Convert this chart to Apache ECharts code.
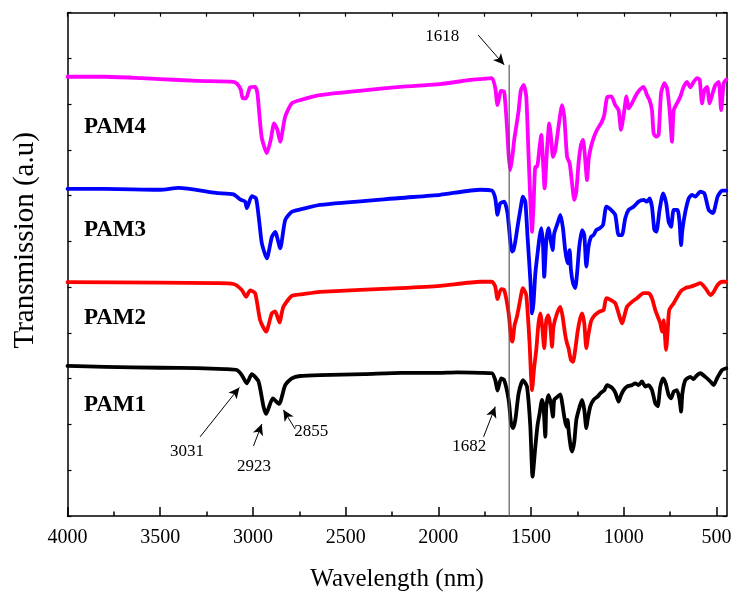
<!DOCTYPE html>
<html><head><meta charset="utf-8">
<script src="https://cdn.jsdelivr.net/npm/echarts@6/dist/echarts.min.js"></script>
<style>html,body{margin:0;padding:0;background:#fff}#c{width:737px;height:597px}</style>
</head><body><div id="c"></div>
<script>
// ---- data (wavenumber in cm-1, transmission in arbitrary units) ----
const wnPAM1 = [4000,3800,3500,3300,3150,3087,3060,3033,3006,2970,2943,2929,2893,2859,2826,2790,2745,2638,2400,2200,2000,1900,1774,1711,1693,1681,1662,1645,1621,1608,1598,1585,1567,1544,1522,1504,1492,1477,1465,1454,1441,1433,1423,1418,1406,1393,1382,1375,1357,1342,1332,1321,1310,1303,1296,1285,1278,1267,1256,1238,1225,1213,1202,1195,1181,1163,1141,1127,1105,1090,1063,1045,1028,1015,1001,983,956,938,920,902,884,866,848,830,817,803,788,774,758,745,731,713,699,691,684,668,641,623,609,587,560,533,515,497,470,447];
const tPAM1 = [32.8,32.6,32.4,32.3,32.1,31.9,30.8,29.0,31.0,29.4,23.9,22.3,25.7,24.5,28.6,30.1,30.6,30.8,31.0,31.3,31.3,31.4,31.3,31.2,29.7,27.4,30.1,29.7,25.4,20.3,19.2,21.0,26.8,29.7,28.3,19.5,8.6,15.1,19.9,22.4,25.4,23.9,17.3,23.9,26.4,24.6,21.7,25.4,26.1,26.6,24.6,21.7,19.5,21.0,18.1,14.8,14.1,16.2,21.0,23.9,25.4,23.2,19.2,21.0,23.9,25.4,26.1,26.8,27.5,28.6,28.0,26.9,25.0,26.4,27.5,28.3,28.6,29.0,28.6,29.4,28.3,28.6,27.5,24.6,24.0,28.3,30.1,29.0,26.4,25.7,27.2,27.5,25.4,22.8,26.8,29.7,30.4,29.9,30.6,31.2,30.4,29.4,28.6,30.1,31.9,32.3];

const wnPAM2 = [4000,3500,3200,3105,3060,3037,3015,2988,2961,2929,2898,2880,2857,2836,2790,2728,2638,2206,1990,1774,1711,1693,1681,1662,1645,1621,1608,1601,1589,1576,1562,1544,1526,1508,1495,1483,1472,1460,1450,1440,1429,1418,1407,1396,1387,1379,1360,1342,1330,1316,1306,1298,1285,1274,1262,1249,1235,1224,1213,1202,1191,1177,1163,1144,1130,1109,1094,1069,1046,1028,1010,983,956,929,893,866,848,830,817,803,794,785,772,764,755,731,695,668,641,614,587,560,533,515,494,470,447];
const tPAM2 = [51.1,51.0,50.9,50.7,49.4,47.9,49.3,48.7,42.8,40.3,44.3,44.7,42.3,45.7,48.1,48.5,49.0,49.8,50.3,51.2,51.2,50.1,47.4,49.6,49.4,44.3,38.8,38.1,41.7,43.6,46.5,49.8,48.3,37.7,27.5,32.6,36.3,42.1,44.3,41.4,36.7,42.8,43.9,41.4,37.0,41.4,44.3,45.7,43.6,39.6,37.7,36.7,34.1,33.7,36.3,40.3,43.2,44.3,42.1,36.7,39.6,42.5,43.6,44.3,44.7,45.0,47.6,47.2,46.5,44.3,42.1,45.7,46.8,47.6,48.7,48.7,47.6,45.0,43.6,42.1,40.3,42.8,36.3,40.0,45.0,46.5,49.0,49.8,50.1,50.5,50.9,49.8,48.3,49.0,50.5,51.2,51.2];

const wnPAM3 = [4000,3800,3500,3400,3200,3105,3069,3042,3033,3006,2983,2965,2952,2925,2898,2880,2853,2826,2790,2745,2638,2206,1990,1774,1711,1693,1681,1667,1645,1627,1612,1603,1595,1585,1573,1558,1544,1531,1519,1504,1495,1487,1477,1465,1454,1445,1436,1429,1418,1406,1393,1384,1375,1357,1342,1328,1316,1303,1292,1285,1274,1262,1252,1240,1225,1213,1202,1190,1177,1163,1148,1130,1112,1094,1069,1046,1028,1010,992,974,947,920,893,875,861,848,835,824,807,788,771,758,745,731,710,699,691,684,668,650,632,614,587,565,542,519,494,470,447];
const tPAM3 = [71.5,71.5,71.3,71.7,70.6,70.3,69.2,68.7,67.3,69.9,69.4,64.0,59.6,56.3,61.0,62.1,58.5,64.7,66.5,67.0,68.0,69.5,70.2,71.3,71.1,69.4,65.8,68.3,68.7,66.2,60.0,57.8,58.1,60.0,63.2,66.9,69.8,68.7,61.0,51.6,44.3,46.5,53.0,57.4,61.0,62.9,59.6,52.3,60.0,62.9,60.0,58.1,61.8,64.0,65.8,62.9,58.1,55.2,58.1,53.8,50.9,49.8,53.0,58.9,62.5,61.4,54.5,58.9,61.0,61.4,62.5,62.9,63.6,67.6,66.9,65.8,61.4,61.4,65.1,66.9,67.6,68.7,69.1,68.7,69.4,67.6,62.5,62.1,66.9,70.5,68.3,64.3,63.2,66.9,66.9,64.0,59.2,62.5,66.5,69.4,70.2,69.8,70.9,70.5,66.9,66.2,69.8,71.1,71.1];

const wnPAM4 = [4000,3800,3600,3500,3300,3105,3084,3065,3055,3037,3015,2988,2976,2965,2952,2925,2904,2886,2868,2853,2826,2790,2745,2638,2206,1990,1828,1774,1711,1693,1681,1662,1645,1630,1621,1612,1601,1591,1580,1567,1555,1540,1526,1514,1504,1495,1487,1477,1468,1454,1445,1436,1427,1414,1402,1391,1382,1369,1352,1333,1321,1306,1292,1279,1267,1256,1244,1231,1220,1211,1198,1190,1177,1163,1148,1134,1118,1105,1090,1067,1046,1028,1015,997,986,974,956,938,915,893,875,861,848,839,824,812,799,781,767,753,740,731,713,695,677,659,641,623,605,591,578,565,551,537,521,506,488,475,461,447];
const tPAM4 = [96.0,96.0,95.7,95.5,95.1,94.9,94.4,93.1,91.3,91.3,93.7,93.8,92.4,87.7,82.6,79.3,82.2,85.8,84.4,81.8,87.3,90.2,90.9,92.0,93.8,94.4,95.3,95.5,95.7,93.5,89.8,92.9,92.7,85.1,78.9,75.6,78.5,82.2,85.1,88.7,93.1,94.2,91.7,79.3,69.1,62.1,67.6,76.3,76.3,80.7,83.3,77.8,71.6,80.0,85.8,82.2,78.5,80.0,85.1,89.8,87.3,78.5,77.1,72.7,69.1,70.9,77.1,81.1,82.2,79.3,73.4,77.8,80.7,82.6,84.1,85.1,86.2,87.7,91.5,91.7,89.8,88.7,84.4,88.7,91.7,89.1,90.2,91.7,93.1,93.8,92.0,90.9,88.7,83.6,82.9,83.3,92.4,94.6,93.5,88.7,81.8,88.7,90.2,91.7,93.8,94.9,93.7,94.9,95.7,95.4,90.2,93.1,93.8,90.2,92.4,94.2,94.9,88.7,94.6,95.4];

const seriesNames = ['PAM1','PAM2','PAM3','PAM4'];
const seriesColors = ['#000000','#ff0000','#0000ff','#ff00ff'];
const nameLabelWn = [3744,3744,3744,3744];
const nameLabelT = [24.3,43.3,62.5,85.0];

// x tick labels
const xMajorTicks = [500,1000,1500,2000,2500,3000,3500,4000];
const xMinorTicks = [750,1250,1750,2250,2750,3250,3750];
const xTopTicks = [500,750,1000,1250,1500,1750,2000,2250,2500,2750,3000,3250,3500,3750,4000];

// reference line at 1618
const refWn = 1618;
const refTop = 98.6;

// peak annotations: text, text position, arrow tail, arrow head
const annText = ['1618','3031','2923','2855','1682'];
const annTextWn = [1979,3355,2994,2686,1834];
const annTextT = [104.9,14.0,10.9,18.4,15.1];
const arrowFromWn = [1785,3285,2997,2772,1756];
const arrowFromT = [105.1,17.3,15.3,19.0,17.3];
const arrowToWn = [1645,3073,2952,2836,1693];
const arrowToT = [98.6,28.1,20.1,23.2,23.9];

const FONT = '"Liberation Serif","Times New Roman",serif';
const xMin = 445, xMax = 4000;

const zip = (a,b) => a.map((v,i)=>[v,b[i]]);
const allWn = [wnPAM1,wnPAM2,wnPAM3,wnPAM4];
const allT = [tPAM1,tPAM2,tPAM3,tPAM4];

const chart = echarts.init(document.getElementById('c'), null, {renderer:'canvas'});
const gridBox = {left:67.5, right:10.3, top:12.7, bottom:81, outerBoundsMode:'none', containLabel:false};

const series = seriesNames.map((n,i)=>({
  name:n, type:'line', xAxisIndex:0, yAxisIndex:0,
  data: zip(allWn[i], allT[i]),
  showSymbol:false, symbol:'none', smooth:0.2,
  lineStyle:{color:seriesColors[i], width:3.8, join:'round', cap:'round'},
  z: 2+i, silent:true
}));

series.push({
  name:'ref', type:'line', xAxisIndex:0, yAxisIndex:0,
  data:[[refWn, refTop],[refWn, 0]], showSymbol:false, symbol:'none',
  lineStyle:{color:'#5a5a5a', width:1.2}, z:20, silent:true
});

const txt = (size, bold) => ({show:true, position:'inside', formatter:p=>p.name, color:'#000',
  fontSize:size, fontWeight:bold?'bold':'normal', fontFamily:FONT,
  textBorderWidth:0, textBorderColor:'transparent', textShadowBlur:0, opacity:1});

series.push({
  name:'annot', type:'scatter', xAxisIndex:0, yAxisIndex:0,
  symbolSize:0, z:21, silent:true, itemStyle:{color:'#000', opacity:1},
  data: annText.map((t,i)=>({value:[annTextWn[i], annTextT[i]], name:t})),
  label: txt(17,false),
  markLine:{
    silent:true, symbol:['none','arrow'], symbolSize:[8,11], animation:false,
    label:{show:false},
    lineStyle:{color:'#000', width:1, type:'solid'},
    data: annText.map((t,i)=>[{coord:[arrowFromWn[i], arrowFromT[i]]},{coord:[arrowToWn[i], arrowToT[i]]}])
  }
});

series.push({
  name:'names', type:'scatter', xAxisIndex:0, yAxisIndex:0,
  symbolSize:0, z:22, silent:true, itemStyle:{color:'#000', opacity:1},
  data: seriesNames.map((n,i)=>({value:[nameLabelWn[i], nameLabelT[i]], name:n})),
  label: txt(23,true)
});

// dummy for minor-tick grid
series.push({type:'line', xAxisIndex:2, yAxisIndex:2, data:[], silent:true});

chart.setOption({
  animation:false,
  backgroundColor:'#fff',
  grid:[Object.assign({}, gridBox), Object.assign({}, gridBox)],
  xAxis:[
    {type:'value', gridIndex:0, position:'bottom', min:xMin, max:xMax, inverse:true,
     axisLine:{show:true, onZero:false, lineStyle:{color:'#000', width:1.5}},
     axisTick:{show:true, inside:true, length:9, customValues:xMajorTicks, lineStyle:{color:'#000', width:1.5}},
     axisLabel:{show:true, customValues:xMajorTicks, formatter:v=>String(v), color:'#000', fontSize:20, fontFamily:FONT, margin:12},
     splitLine:{show:false},
     name:'Wavelength (nm)', nameLocation:'middle', nameGap:51,
     nameTextStyle:{color:'#000', fontSize:25, fontFamily:FONT}},
    {type:'value', gridIndex:0, position:'top', min:xMin, max:xMax, inverse:true,
     axisLine:{show:true, onZero:false, lineStyle:{color:'#000', width:1.5}},
     axisTick:{show:true, inside:true, length:4, customValues:xTopTicks, lineStyle:{color:'#000', width:1.2}},
     axisLabel:{show:false}, splitLine:{show:false}},
    {type:'value', gridIndex:1, position:'bottom', min:xMin, max:xMax, inverse:true,
     axisLine:{show:false, onZero:false},
     axisTick:{show:true, inside:true, length:4.5, customValues:xMinorTicks, lineStyle:{color:'#000', width:1.5}},
     axisLabel:{show:false}, splitLine:{show:false}}
  ],
  yAxis:[
    {type:'value', gridIndex:0, position:'left', min:0, max:110, interval:10,
     axisLine:{show:true, onZero:false, lineStyle:{color:'#000', width:1.5}},
     axisTick:{show:true, inside:true, length:4, lineStyle:{color:'#000', width:1.2}},
     axisLabel:{show:false}, splitLine:{show:false},
     name:'Transmission (a.u)', nameLocation:'middle', nameGap:28, nameRotate:90,
     nameTextStyle:{color:'#000', fontSize:29, fontFamily:FONT, padding:[0,0,0,48]}},
    {type:'value', gridIndex:0, position:'right', min:0, max:110, interval:10,
     axisLine:{show:true, onZero:false, lineStyle:{color:'#000', width:1.5}},
     axisTick:{show:true, inside:true, length:4, lineStyle:{color:'#000', width:1.2}},
     axisLabel:{show:false}, splitLine:{show:false}},
    {type:'value', gridIndex:1, min:0, max:110, show:false}
  ],
  series: series
});
</script></body></html>
